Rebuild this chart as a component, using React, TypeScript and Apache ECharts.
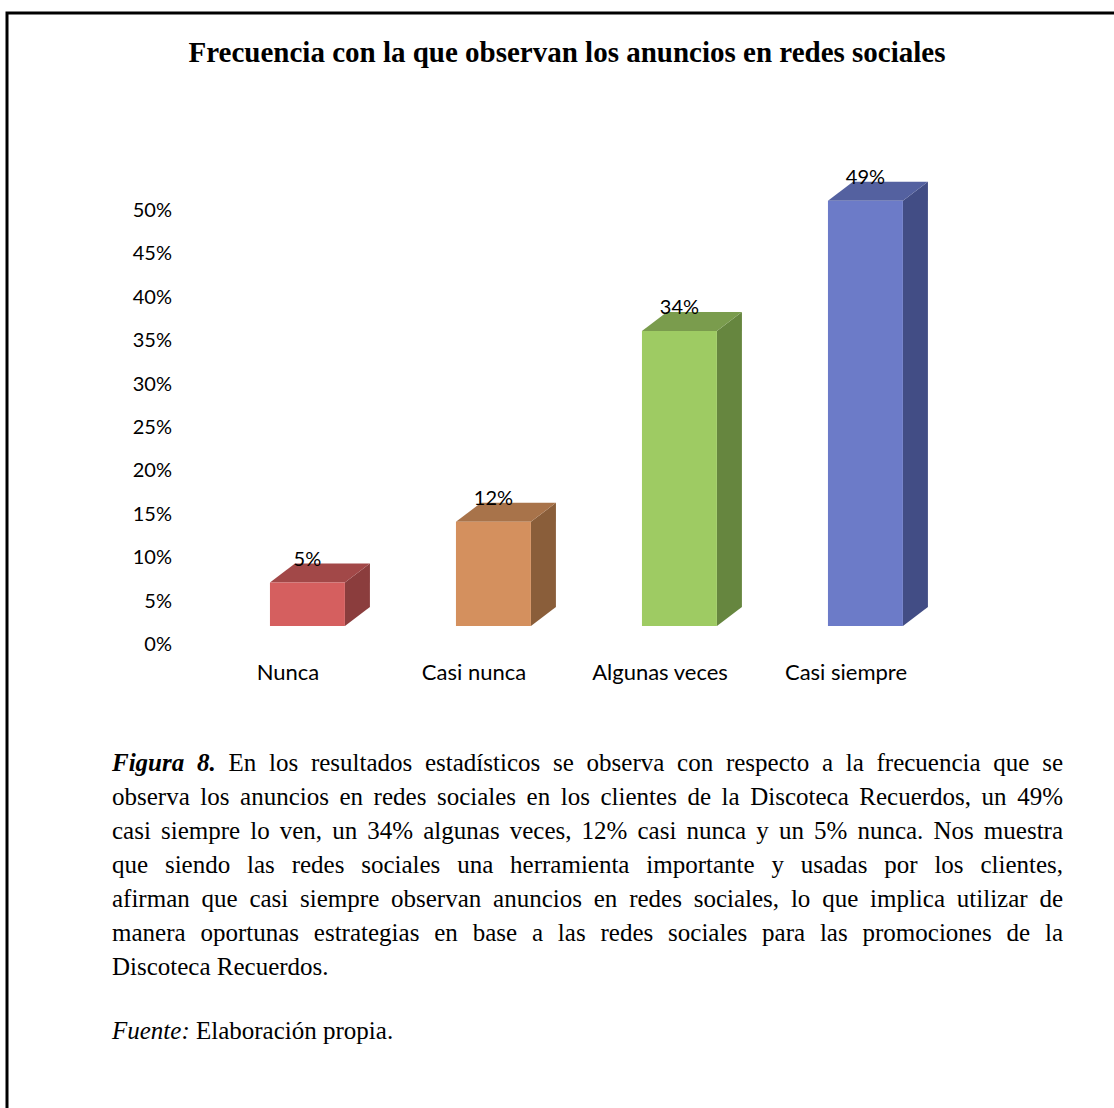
import React, { useEffect, useRef } from "react";
import * as echarts from "echarts";

const categories = ["Nunca", "Casi nunca", "Algunas veces", "Casi siempre"];
const values = [5, 12, 34, 49];
const frontColors = ["#D55F5F", "#D4905E", "#9ECB63", "#6C7BC8"];
const topColors = ["#A24848", "#A8734A", "#7A9C4D", "#5461A0"];
const sideColors = ["#8B3D3D", "#8A5E3A", "#66863F", "#424D85"];

const titleText = "Frecuencia con la que observan los anuncios en redes sociales";
const paragraphLines = [
  "Figura 8. En los resultados estadísticos se observa con respecto a la frecuencia que se",
  "observa los anuncios en redes sociales en los clientes de la Discoteca Recuerdos, un 49%",
  "casi siempre lo ven, un 34% algunas veces, 12% casi nunca y un 5% nunca. Nos muestra",
  "que siendo las redes sociales una herramienta importante y usadas por los clientes,",
  "afirman que casi siempre observan anuncios en redes sociales, lo que implica utilizar de",
  "manera oportunas estrategias en base a las redes sociales para las promociones de la",
  "Discoteca Recuerdos.",
];
const sourceLabel = "Fuente:";
const sourceText = "Elaboración propia.";

const SERIF = '"Liberation Serif", "Times New Roman", serif';
const SANS = 'Lato, "Open Sans", sans-serif';
const PFONT = 25;

function buildParagraph(): any[] {
  const canvas = document.createElement("canvas");
  const ctx = canvas.getContext("2d")!;
  const left = 112;
  const right = 1063;
  const top = 762;
  const lh = 34;
  const els: any[] = [];
  paragraphLines.forEach((line, li) => {
    const words = line.split(" ");
    const styles = words.map((w, wi) =>
      li === 0 && wi < 2 ? { fontStyle: "italic", fontWeight: "bold" } : { fontStyle: "normal", fontWeight: "normal" }
    );
    const widths = words.map((w, wi) => {
      ctx.font = `${styles[wi].fontStyle} ${styles[wi].fontWeight} ${PFONT}px ${SERIF}`;
      return ctx.measureText(w).width;
    });
    ctx.font = `normal normal ${PFONT}px ${SERIF}`;
    const spaceW = ctx.measureText(" ").width;
    const total = widths.reduce((a, b) => a + b, 0);
    const last = li === paragraphLines.length - 1;
    const gap = last ? spaceW : (right - left - total) / (words.length - 1);
    let x = left;
    words.forEach((w, wi) => {
      els.push({
        type: "text",
        x,
        y: top + li * lh,
        style: {
          text: w,
          font: `${styles[wi].fontStyle} ${styles[wi].fontWeight} ${PFONT}px ${SERIF}`,
          fill: "#000",
          textAlign: "left",
          textVerticalAlign: "middle",
        },
      });
      x += widths[wi] + gap;
    });
  });
  ctx.font = `italic normal ${PFONT}px ${SERIF}`;
  const fw = ctx.measureText(sourceLabel + " ").width;
  els.push({
    type: "text",
    x: left,
    y: 1030,
    style: { text: sourceLabel, font: `italic normal ${PFONT}px ${SERIF}`, fill: "#000", textVerticalAlign: "middle" },
  });
  els.push({
    type: "text",
    x: left + fw,
    y: 1030,
    style: { text: sourceText, font: `normal normal ${PFONT}px ${SERIF}`, fill: "#000", textVerticalAlign: "middle" },
  });
  return els;
}

export default function App() {
  const ref = useRef<HTMLDivElement>(null);
  useEffect(() => {
    if (!ref.current) return;
    const chart = echarts.init(ref.current, null, { renderer: "svg" });
    const option: any = {
      animation: false,
      backgroundColor: "#fff",
      grid: { left: 195, top: 209, width: 744, height: 434 },
      xAxis: {
        type: "category",
        data: categories,
        axisLine: { show: false },
        axisTick: { show: false },
        axisLabel: { fontFamily: SANS, fontSize: 22, color: "#000", margin: 17 },
        splitLine: { show: false },
      },
      yAxis: {
        type: "value",
        min: 0,
        max: 50,
        interval: 5,
        axisLine: { show: false },
        axisTick: { show: false },
        splitLine: { show: false },
        axisLabel: { formatter: "{value}%", fontFamily: SANS, fontSize: 20, color: "#000", margin: 23 },
      },
      series: [
        {
          type: "custom",
          clip: false,
          data: values.map((v, i) => [i, v]),
          renderItem: (params: any, api: any) => {
            const idx = api.value(0);
            const val = api.value(1);
            const [cx, y0] = api.coord([idx, 0]);
            const [, y1] = api.coord([idx, val]);
            const band = api.size([1, 0])[0];
            const w = band * 0.403;
            const shift = 17;
            const dx = 25;
            const dy = -19;
            const x = cx - band * 0.097;
            const yt = y1 - shift;
            const yb = y0 - shift;
            const i = params.dataIndex;
            return {
              type: "group",
              children: [
                {
                  type: "polygon",
                  shape: { points: [[x + w, yt], [x + w + dx, yt + dy], [x + w + dx, yb + dy], [x + w, yb]] },
                  style: { fill: sideColors[i] },
                },
                {
                  type: "polygon",
                  shape: { points: [[x, yt], [x + w, yt], [x + w + dx, yt + dy], [x + dx, yt + dy]] },
                  style: { fill: topColors[i] },
                },
                {
                  type: "rect",
                  shape: { x, y: yt, width: w, height: yb - yt },
                  style: { fill: frontColors[i] },
                },
                {
                  type: "text",
                  x: x + w / 2,
                  y: yt + dy - 6,
                  style: {
                    text: `${val}%`,
                    font: `20px ${SANS}`,
                    fill: "#000",
                    textAlign: "center",
                    textVerticalAlign: "middle",
                  },
                },
              ],
            };
          },
        },
      ],
      graphic: [
        {
          type: "rect",
          shape: { x: 7, y: 13, width: 1300, height: 1300 },
          style: { fill: "none", stroke: "#000", lineWidth: 3 },
        },
        {
          type: "text",
          x: 567,
          y: 52,
          style: {
            text: titleText,
            font: `bold 29px ${SERIF}`,
            fill: "#000",
            textAlign: "center",
            textVerticalAlign: "middle",
          },
        },
        ...buildParagraph(),
      ],
    };
    chart.setOption(option);
    return () => chart.dispose();
  }, []);
  return (
    <div
      ref={ref}
      style={{ position: "absolute", left: 0, top: 0, width: 1114, height: 1108, background: "#fff" }}
    />
  );
}
